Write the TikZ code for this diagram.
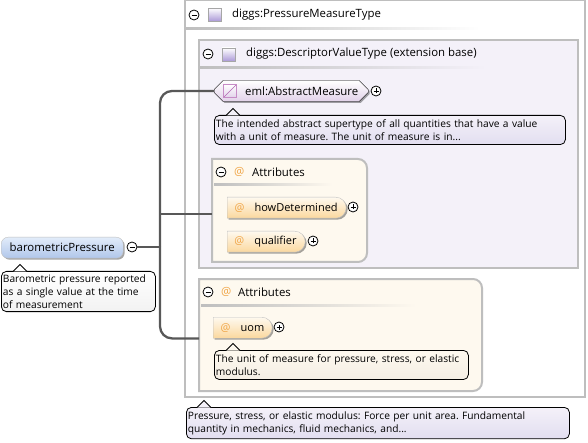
\documentclass[tikz,border=0pt]{standalone}
\usepackage{fontspec}
\setmainfont{Open Sans}
\usepackage{xcolor}
\usetikzlibrary{shapes.misc,shadows,positioning}
\definecolor{panelgray}{RGB}{190, 190, 190}
\definecolor{linkgray}{RGB}{88, 88, 88}
\definecolor{typelilac}{RGB}{244, 241, 249}
\definecolor{doclilac}{RGB}{226, 222, 240}
\definecolor{iconlilac}{RGB}{172, 154, 216}
\definecolor{abstractmauve}{RGB}{226, 210, 234}
\definecolor{attrcream}{RGB}{254, 249, 239}
\definecolor{attrgold}{RGB}{251, 216, 158}
\definecolor{attrdoc}{RGB}{244, 238, 228}
\definecolor{attrorange}{RGB}{240, 165, 70}
\definecolor{elementtop}{RGB}{226, 236, 250}
\definecolor{elementblue}{RGB}{176, 198, 234}
\newcommand{\attrsign}{\textcolor{attrorange}{@}}
\newcommand{\docpointer}[2]{\filldraw[docline,fill=#1] (#2) ++(-7,7) -- ++(7,-7) -- ++(7,7);}
\tikzset{
  softshadow/.style={
    drop shadow={shadow xshift=1.5pt,shadow yshift=-1.5pt,fill=black,opacity=.35}
  },
  panelbox/.style={
    anchor=north west,
    draw=panelgray,
    line width=2pt,
    outer sep=0pt,
    inner sep=0pt
  },
  titletext/.style={
    anchor=west,
    inner sep=0pt,
    font=\fontsize{11.4}{13}\selectfont
  },
  elementbox/.style={
    rounded corners=7pt,
    draw=black!25,
    top color=elementtop,
    bottom color=elementblue,
    softshadow,
    anchor=north west,
    minimum height=21pt,
    inner sep=0pt,
    font=\fontsize{11.4}{13}\selectfont
  },
  attrbox/.style={
    rounded rectangle,
    rounded rectangle west arc=none,
    draw=black!25,
    top color=attrcream,
    bottom color=attrgold,
    softshadow,
    anchor=north west,
    minimum height=21pt,
    inner ysep=0pt,
    inner xsep=0pt,
    font=\fontsize{11}{13}\selectfont
  },
  abstractbox/.style={
    chamfered rectangle,
    chamfered rectangle xsep=4pt,
    chamfered rectangle ysep=5pt,
    draw=black,
    top color=white,
    bottom color=abstractmauve,
    softshadow,
    anchor=west,
    minimum height=21pt,
    inner ysep=0pt,
    inner xsep=0pt,
    font=\fontsize{11.4}{13}\selectfont
  },
  docbox/.style={
    anchor=north west,
    draw=black,
    line width=.8pt,
    rounded corners=5pt,
    align=left,
    inner xsep=1.5pt,
    inner ysep=4pt,
    font=\fontsize{10.2}{13.2}\selectfont
  },
  docline/.style={
    draw=black,
    line width=.8pt
  },
  expander/.style={
    circle,
    draw=black,
    line width=.8pt,
    fill=white,
    minimum size=10pt,
    inner sep=0pt
  },
  minusmark/.style={
    expander,
    path picture={\draw[line width=.8pt] ([xshift=-2.5pt]path picture bounding box.center) -- ([xshift=2.5pt]path picture bounding box.center);}
  },
  plusmark/.style={
    expander,
    path picture={\draw[line width=.8pt] ([xshift=-2.5pt]path picture bounding box.center) -- ([xshift=2.5pt]path picture bounding box.center);
    \draw[line width=.8pt] ([yshift=-2.5pt]path picture bounding box.center) -- ([yshift=2.5pt]path picture bounding box.center);}
  },
  typeicon/.style={
    draw=black!35,
    top color=white,
    bottom color=iconlilac,
    minimum size=13pt,
    inner sep=0pt
  },
  fadeline/.style={
    left color=panelgray,
    right color=white
  },
  trunkline/.style={
    draw=linkgray,
    line width=2.3pt,
    rounded corners=12pt
  },
  branchline/.style={
    draw=linkgray,
    line width=1.3pt
  }
}
\begin{document}
\frenchspacing
\begin{tikzpicture}[x=1pt,y=-1pt]
  \useasboundingbox (0,0) rectangle (588,443);
  \fill[white] (0,0) rectangle (588,443);

  % outer type panel
  \node[panelbox, minimum width=400pt, minimum height=397pt] (pressuretype) at (185,0) {};
  \node[minusmark] (pressureminus) at (194,15) {};
  \node[typeicon] (pressureicon) at (214.5,14.5) {};
  \node[titletext] (pressuretitle) at (232,15) {diggs:PressureMeasureType};
  \shade[fadeline] (186,28) rectangle (480,30);

  % extension base panel
  \node[panelbox, fill=typelilac, minimum width=379pt, minimum height=228pt] (basetype) at (199,40) {};
  \node[minusmark] (baseminus) at (208,54) {};
  \node[typeicon] (baseicon) at (228.5,54.5) {};
  \node[titletext] (basetitle) at (246,54) {diggs:DescriptorValueType (extension base)};
  \shade[fadeline, left color=panelgray, right color=typelilac] (200,67) rectangle (486,69);

  % abstract element
  \node[abstractbox, minimum width=154pt] (abstractmeasure) at (214,91) {\makebox[146pt][l]{\hspace{27pt}eml:AbstractMeasure}};
  \node[typeicon, draw=violet!45, top color=white, bottom color=abstractmauve,
    path picture={\draw[violet!60] (path picture bounding box.north east) -- (path picture bounding box.south west);}] (abstracticon) at (230,91) {};
  \node[plusmark] (abstractplus) at (376,91) {};
  \node[docbox, top color=typelilac, bottom color=doclilac, minimum width=351pt, text width=348pt] (abstractdoc) at (214,115) {The intended abstract supertype of all quantities that have a value\\with a unit of measure. The unit of measure is in...};
  \coordinate (abstracttip) at (233,108.5);
  \docpointer{typelilac}{abstracttip}

  % inherited attributes
  \node[panelbox, draw=none, minimum width=155pt, minimum height=103pt] (attrgroupa) at (212,159) {};
  \draw[draw=panelgray, line width=2pt, fill=attrcream] (attrgroupa.north west) [rounded corners=9pt] -- (attrgroupa.north east) -- (attrgroupa.south east) [sharp corners] -- (attrgroupa.south west) -- cycle;
  \node[minusmark] (attrminusa) at (221,172) {};
  \node[titletext] (attrsigna) at (234,172) {\attrsign};
  \node[titletext] (attrtitlea) at (252,172) {Attributes};
  \shade[fadeline, left color=panelgray, right color=attrcream] (214,184) rectangle (332,186);
  \node[attrbox, minimum width=119pt] (howdetermined) at (227,197) {\makebox[109pt][l]{\hspace{3pt}\attrsign\hspace{10pt}howDetermined}};
  \node[plusmark] (howplus) at (353,207) {};
  \node[attrbox, minimum width=78pt] (qualifier) at (227,231) {\makebox[68pt][l]{\hspace{3pt}\attrsign\hspace{10pt}qualifier}};
  \node[plusmark] (qualifierplus) at (313,241) {};

  % own attributes
  \node[panelbox, draw=none, minimum width=283pt, minimum height=112pt] (attrgroupb) at (199,279) {};
  \draw[draw=panelgray, line width=2pt, fill=attrcream] (attrgroupb.north west) [rounded corners=9pt] -- (attrgroupb.north east) -- (attrgroupb.south east) [sharp corners] -- (attrgroupb.south west) -- cycle;
  \node[minusmark] (attrminusb) at (208,292) {};
  \node[titletext] (attrsignb) at (221,292) {\attrsign};
  \node[titletext] (attrtitleb) at (238,292) {Attributes};
  \shade[fadeline, left color=panelgray, right color=attrcream] (201,304) rectangle (416,306);
  \node[attrbox, minimum width=59pt] (uom) at (213,317) {\makebox[49pt][l]{\hspace{3pt}\attrsign\hspace{10pt}uom}};
  \node[plusmark] (uomplus) at (279,327) {};
  \node[docbox, top color=attrcream, bottom color=attrdoc, minimum width=254pt, text width=251pt] (uomdoc) at (214,350) {The unit of measure for pressure, stress, or elastic\\modulus.};
  \coordinate (uomtip) at (233,343.5);
  \docpointer{attrcream}{uomtip}

  % root element
  \node[elementbox, minimum width=122pt] (barometric) at (1,237) {barometricPressure};
  \node[minusmark] (barominus) at (132,247) {};
  \node[docbox, top color=white, bottom color=black!5, minimum width=154pt, text width=151pt, inner ysep=3pt] (barodoc) at (1,271) {Barometric pressure reported\\as a single value at the time\\of measurement};
  \coordinate (barotip) at (20,264.5);
  \docpointer{white}{barotip}

  % type documentation
  \node[docbox, top color=typelilac, bottom color=doclilac, minimum width=383pt, text width=380pt] (pressuredoc) at (186,407) {Pressure, stress, or elastic modulus: Force per unit area. Fundamental\\quantity in mechanics, fluid mechanics, and...};
  \coordinate (pressuretip) at (204,400.5);
  \docpointer{typelilac}{pressuretip}

  % connectors
  \coordinate (hub) at (160,247);
  \coordinate (attrjoin) at (212,214);
  \draw[trunkline] (barominus) -- (hub);
  \draw[trunkline] (hub) |- (abstractmeasure.west);
  \draw[trunkline] (hub) |- (attrgroupb.west |- uom.south);
  \draw[branchline] (hub |- attrjoin) -- (attrjoin);
\end{tikzpicture}
\end{document}
